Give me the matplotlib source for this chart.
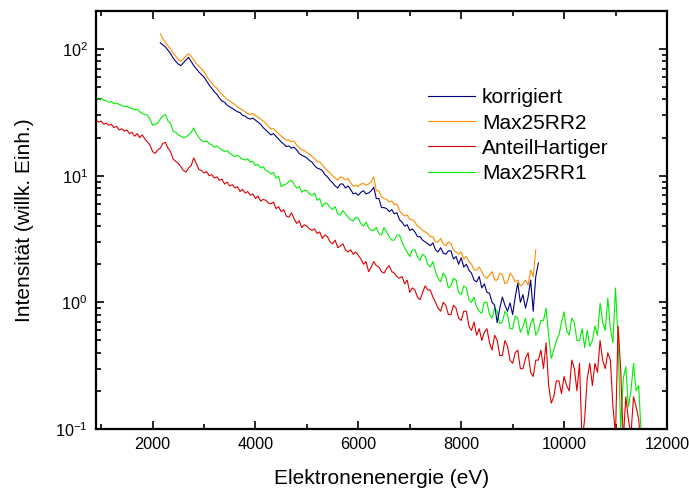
import matplotlib
matplotlib.use('Agg')
import matplotlib.pyplot as plt
from matplotlib.ticker import MultipleLocator, LogLocator, NullFormatter

plt.rcParams['font.family'] = ['Liberation Sans', 'DejaVu Sans']
plt.rcParams['mathtext.default'] = 'regular'

# energy grids of the measured spectra (eV), 50 eV steps
e_long = list(range(900, 11501, 50))    # AnteilHartiger, Max25RR1
e_korr = list(range(2150, 9501, 50))    # korrigiert
e_rr2 = list(range(2150, 9451, 50))     # Max25RR2

korr_i = [112, 108, 104, 98, 92, 85, 80, 76, 74, 78,
          82, 86, 80, 74, 70, 66, 63, 60, 56, 52,
          49, 46, 44, 41, 39, 38, 36, 35, 34, 33,
          32, 31.5, 30, 29.5, 28.5, 28, 28.5, 27.5, 26.5, 25.5,
          24, 23, 22, 21, 21.5, 20.5, 19.5, 18.5, 17.8, 17,
          17.2, 16.5, 16.8, 16, 15, 14.5, 14.2, 13.8, 13.2, 12.8,
          12.0, 11.5, 11.3, 11, 10.2, 9.8, 9.2, 8.8, 8.3, 8.0,
          8.6, 8.6, 8.0, 8.3, 7.8, 7.2, 7.3, 7.0, 7.4, 7.6,
          7.2, 7.3, 7.6, 8.1, 6.6, 6.6, 5.6, 5.6, 5.5, 5.2,
          5.4, 5.0, 5.1, 4.5, 4.3, 4.0, 4.1, 3.7, 3.8, 3.6,
          3.3, 3.3, 3.1, 3.0, 2.9, 2.8, 2.95, 2.6, 2.5, 2.7,
          2.45, 2.4, 2.55, 2.55, 2.2, 2.3, 2.0, 2.25, 1.9, 2.0,
          1.8, 1.7, 1.5, 1.45, 1.6, 1.3, 1.4, 1.2, 1.18, 1.0,
          0.95, 0.69, 0.9, 1.1, 0.95, 0.85, 0.99, 0.8, 1.1, 1.42,
          1.0, 1.15, 0.9, 1.1, 1.5, 0.85, 1.6, 2.05]

rr2_i = [132, 120, 113, 106, 100, 93, 88, 83, 80, 84,
         88, 92, 88, 82, 77, 73, 70, 66, 61, 57,
         54, 51, 49, 46, 44, 42, 40, 39, 37.5, 36.5,
         35, 34, 33, 32, 31, 30.5, 31, 30, 29, 28,
         27, 26, 24.5, 23.5, 23.5, 22.5, 21.5, 20.5, 19.8, 19,
         19.2, 18.5, 18.8, 17.5, 16.8, 16, 15.8, 15.2, 14.8, 14.2,
         13.6, 13, 12.8, 12.2, 11.5, 11, 10.5, 10, 9.6, 9.2,
         9.8, 9.6, 9.3, 9.5, 8.8, 8.3, 8.4, 8.2, 8.6, 8.7,
         8.4, 8.6, 8.9, 9.8, 7.6, 7.6, 6.8, 6.6, 6.5, 6.2,
         6.3, 5.9, 6.0, 5.3, 5.0, 4.8, 4.9, 4.5, 4.5, 4.3,
         4.0, 3.9, 3.7, 3.6, 3.5, 3.3, 3.3, 3.0, 3.0, 3.2,
         2.9, 2.8, 3.0, 2.9, 2.6, 2.5, 2.4, 2.5, 2.2, 2.3,
         2.1, 2.0, 1.8, 1.8, 1.9, 1.75, 1.6, 1.55, 1.65, 1.75,
         1.5, 1.5, 1.7, 1.65, 1.4, 1.45, 1.7, 1.6, 1.45, 1.5,
         1.35, 1.4, 1.5, 1.37, 1.8, 1.6, 2.6]

hart_i = [27.5, 26.5, 27, 25.5, 26, 25, 25.5, 24, 24.5, 23,
          23.5, 22.5, 23, 21.5, 22, 20.5, 21.5, 20, 21, 19.5,
          18.5, 17.5, 15.5, 15, 16, 16.5, 18, 18.3, 16.5, 15.5,
          13.5, 13, 12.5, 11.8, 11, 10.7, 11.5, 12, 13.8, 12.5,
          11.2, 11, 10.5, 10.8, 10, 10.2, 9.6, 9.8, 9.2, 9.4,
          8.6, 8.9, 8.3, 8.5, 8.0, 8.2, 7.5, 7.8, 7.3, 7.5,
          7.0, 7.2, 6.6, 6.9, 6.3, 6.5, 6.4, 6.1, 6.0, 6.2,
          5.5, 5.7, 5.2, 5.4, 4.8, 4.7, 5.1, 4.6, 4.2, 4.4,
          3.9, 4.1, 4.0, 3.8, 3.7, 3.8, 3.5, 3.6, 3.2, 3.4,
          3.3, 3.0, 2.9, 3.1, 2.7, 2.8, 2.9, 2.6, 2.5, 2.6,
          2.4, 2.5, 2.35, 2.2, 2.0, 2.1, 1.75, 1.9, 2.1, 1.95,
          1.9, 1.75, 1.7, 1.85, 1.95, 1.75, 1.7, 1.6, 1.55, 1.6,
          1.4, 1.5, 1.2, 1.3, 1.25, 1.1, 1.05, 1.2, 1.35, 1.25,
          1.25, 1.1, 1.0, 0.9, 0.85, 1.0, 0.95, 0.8, 0.8, 0.95,
          0.9, 0.75, 0.72, 0.85, 0.85, 0.65, 0.6, 0.7, 0.55, 0.62,
          0.5, 0.58, 0.62, 0.48, 0.42, 0.55, 0.5, 0.38, 0.38, 0.5,
          0.45, 0.35, 0.33, 0.4, 0.42, 0.3, 0.3, 0.36, 0.4, 0.28,
          0.26, 0.35, 0.35, 0.42, 0.3, 0.48, 0.22, 0.16, 0.18, 0.24,
          0.24, 0.19, 0.26, 0.22, 0.2, 0.35, 0.3, 0.2, 0.33, 0.08,
          0.12, 0.25, 0.33, 0.22, 0.33, 0.28, 0.5, 0.35, 0.3, 0.4,
          0.35, 0.15, 0.09, 0.65, 0.3, 0.08, 0.18, 0.12, 0.09, 0.18,
          0.15, 0.12, 0.07]

rr1_i = [41.5, 40, 41, 39.5, 39, 38, 38.5, 37, 37.5, 36.5,
         36, 35, 35.5, 34.5, 34, 33, 33.5, 32, 31, 30.5,
         30, 28, 25, 25.5, 26, 28, 29.5, 30.5, 27, 26,
         22.5, 22, 21, 20.5, 20, 20.2, 21, 22, 23.8, 21.5,
         20, 19, 18.5, 18.8, 18, 17.5, 16.8, 17.2, 16.5, 16,
         15.5, 15.8, 15, 14.6, 14.2, 14.5, 14, 13.5, 13.3, 13.6,
         12.8, 13, 12, 12.3, 11.5, 11.8, 11, 10.8, 10.3, 10.6,
         9.6, 9.9, 8.2, 8.5, 8.6, 9.0, 9.2, 8.6, 8.0, 8.2,
         7.4, 7.7, 7.6, 7.2, 7.0, 7.3, 6.4, 6.6, 5.7, 6.1,
         6.0, 5.6, 5.4, 5.7, 5.0, 4.9, 5.3, 5.0, 4.7, 4.5,
         4.4, 4.7, 4.6, 4.2, 4.0, 4.3, 3.9, 3.7, 3.7, 3.9,
         3.5, 3.4, 3.9, 3.6, 3.3, 3.1, 3.1, 3.4, 3.4, 3.0,
         2.7, 2.5, 2.3, 2.6, 2.6, 2.3, 2.15, 2.4, 2.3, 2.0,
         1.9, 2.1, 1.75, 1.55, 1.45, 1.7, 1.6, 1.3, 1.35, 1.55,
         1.5, 1.2, 1.15, 1.35, 1.3, 1.05, 1.0, 1.1, 0.92, 0.85,
         0.82, 1.0, 1.0, 0.8, 0.75, 0.9, 0.85, 0.68, 0.7, 0.85,
         0.8, 0.62, 0.62, 0.78, 0.75, 0.58, 0.64, 0.75, 0.55, 0.68,
         0.75, 0.55, 0.6, 0.72, 0.72, 0.9, 0.55, 0.36, 0.42, 0.5,
         0.55, 0.7, 0.84, 0.6, 0.55, 0.75, 0.69, 0.5, 0.5, 0.62,
         0.44, 0.6, 0.45, 0.5, 0.65, 0.55, 0.98, 0.7, 0.6, 1.08,
         0.62, 0.48, 1.3, 0.5, 0.1, 0.25, 0.31, 0.15, 0.2, 0.33,
         0.2, 0.22, 0.09]

fig = plt.figure(figsize=(6.89, 4.93), dpi=100)
ax = fig.add_axes([0.1393, 0.1298, 0.8287, 0.848])

l4, = ax.plot(e_long, rr1_i, color='#00ee00', lw=0.8, label='Max25RR1')
l3, = ax.plot(e_long, hart_i, color='#e00000', lw=0.8, label='AnteilHartiger')
l2, = ax.plot(e_rr2, rr2_i, color='#ff8c00', lw=0.8, label='Max25RR2')
l1, = ax.plot(e_korr, korr_i, color='#000080', lw=0.8, label='korrigiert')

ax.set_yscale('log')
ax.set_xlim(900, 12000)
ax.set_ylim(0.1, 200)
ax.xaxis.set_major_locator(MultipleLocator(2000))
ax.xaxis.set_minor_locator(MultipleLocator(1000))
ax.yaxis.set_major_locator(LogLocator(base=10))
ax.yaxis.set_minor_locator(LogLocator(base=10, subs=range(2, 10)))
ax.yaxis.set_minor_formatter(NullFormatter())
ax.tick_params(which='both', direction='in', top=True, right=True, width=1.2)
ax.tick_params(which='major', length=6, labelsize=11.7, pad=6)
ax.tick_params(which='minor', length=3.5)
for s in ax.spines.values():
    s.set_linewidth(1.6)

ax.set_xlabel('Elektronenenergie (eV)', fontsize=15, labelpad=12)
ax.set_ylabel('Intensität (willk. Einh.)', fontsize=15, labelpad=15)

ax.legend(handles=[l1, l2, l3, l4], loc='upper left', bbox_to_anchor=(0.581, 0.815),
          frameon=False, fontsize=15, handlelength=2.25, handletextpad=0.35,
          labelspacing=0.3, borderpad=0, borderaxespad=0)

fig.savefig('out.png', dpi=100)
